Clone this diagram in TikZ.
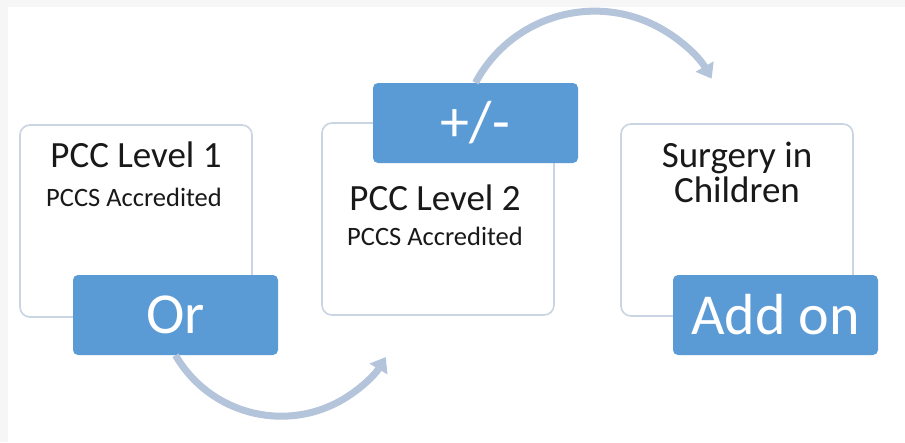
\documentclass[tikz,border=0pt]{standalone}
\usepackage{fontspec}
\setmainfont{Carlito}
\usepackage{tikz}
\usetikzlibrary{arrows.meta,positioning}
\definecolor{tabblue}{HTML}{5B9BD5}
\definecolor{boxline}{HTML}{C9D5E3}
\definecolor{flowline}{HTML}{B3C4DB}
\definecolor{edgegray}{HTML}{F6F6F6}

\begin{document}
\begin{tikzpicture}[x=1pt,y=1pt,
  card/.style={draw=boxline, line width=1.6pt, fill=white, rounded corners=10pt, minimum width=232pt, minimum height=192pt, inner sep=0pt},
  tab/.style={fill=tabblue, rounded corners=5pt, minimum width=205pt, minimum height=80pt, inner sep=0pt, text=white, font=\fontsize{58}{58}\selectfont},
  title/.style={anchor=base, inner sep=0pt, text=black!90, font=\fontsize{37}{37}\selectfont},
  sub/.style={anchor=base, inner sep=0pt, text=black!90, font=\fontsize{26.5}{26.5}\selectfont},
  flow/.style={draw=flowline, line width=7pt, -{Triangle[width=20pt,length=14pt]}}]
\fill[edgegray] (0,0) rectangle (905,-442);
\useasboundingbox (0,0) rectangle (905,-442);
\fill[white] (8,-7) rectangle (905,-442);
% the three cards
\node[card] (lvlone) at (136,-221) {};
\node[card] (lvltwo) at (438,-219) {};
\node[card] (surgery) at (737,-220) {};
\node[title] (lvlonet) at (136,-167) {PCC Level 1};
\node[sub] (lvlones) at (134,-206) {PCCS Accredited};
\node[title] (lvltwot) at (435,-210) {PCC Level 2};
\node[sub] (lvltwos) at (435,-245) {PCCS Accredited};
\node[title] (surgerya) at (737,-167) {Surgery in};
\node[title] (surgeryb) at (737,-202) {Children};
% tabs
\node[tab] (or) at (175.5,-315) {Or};
\node[tab] (pm) at (475.5,-123) {+/-};
\node[tab] (addon) at (775.5,-315) {Add on};
% curved arrows
\draw[flow] (or.south) arc[start angle=210, end angle=329, radius=122pt];
\draw[flow] (pm.north) arc[start angle=152, end angle=30, radius=135pt];
\end{tikzpicture}
\end{document}
